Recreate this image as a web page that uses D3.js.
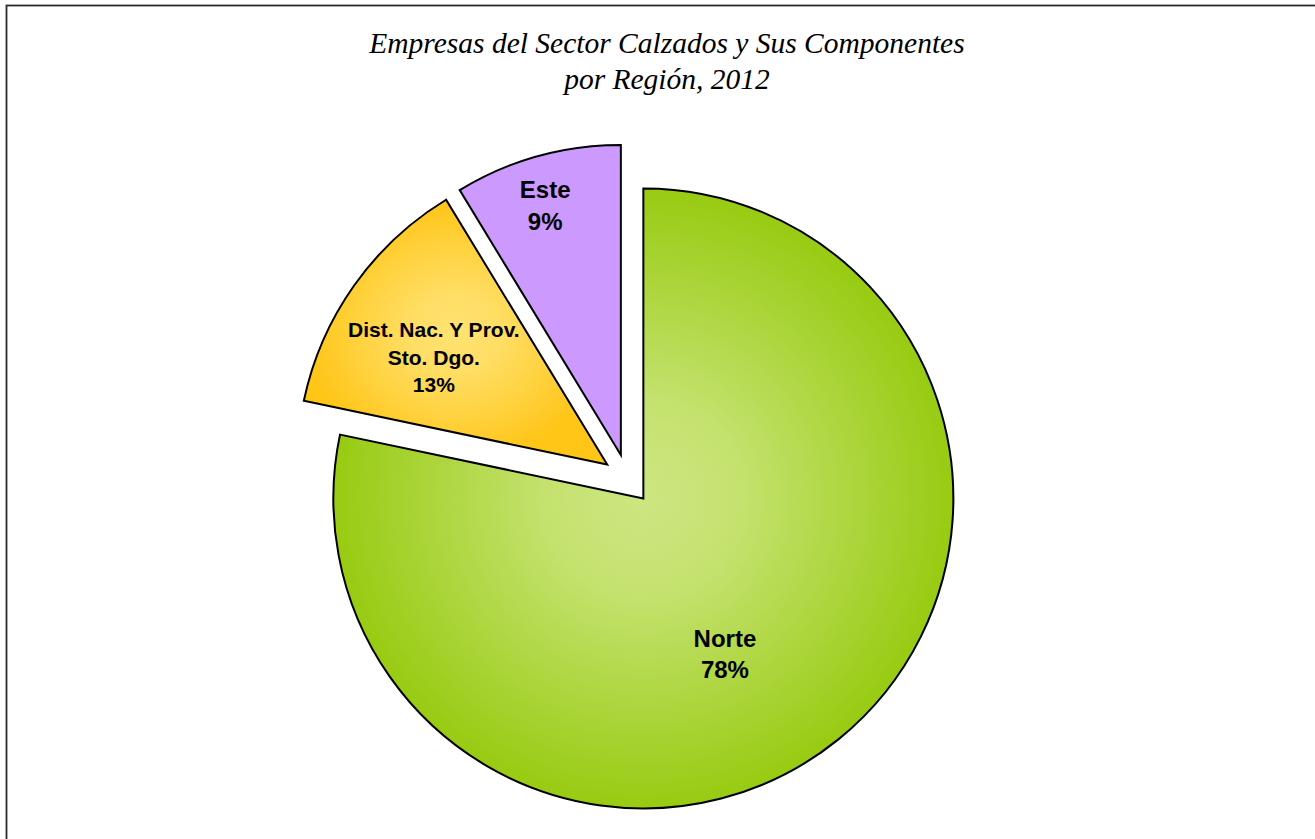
<!DOCTYPE html>
<html>
<head>
<meta charset="utf-8">
<script src="https://cdn.jsdelivr.net/npm/d3@7/dist/d3.min.js"></script>
<style>
  html, body { margin: 0; padding: 0; background: #ffffff; }
  svg { display: block; }
</style>
</head>
<body>
<svg id="chart" width="1315" height="839"></svg>
<script>
// ---- data ----
const titleLines = ["Empresas del Sector Calzados y Sus Componentes", "por Región, 2012"];
const categories = ["Norte", "Dist. Nac. Y Prov.\nSto. Dgo.", "Este"];
const values = [78.3, 13.0, 8.7];
const colors = [
  ["#cde681", "#98cb12"],
  ["#ffe272", "#ffc517"],
  ["#cc99ff", "#cc99ff"]
];

// ---- layout / style (not data) ----
const W = 1315, H = 839;
const center = { x: 627.6, y: 479 };
const radius = 310;
const explode = 25;
const labelPlacement = [
  { k: 0.567, turnDeg: 11.4, size: 24, lineH: 31 },
  { k: 0.658, turnDeg: -3.5, size: 21, lineH: 27.5 },
  { k: 0.842, turnDeg: -1.2, size: 24, lineH: 32 }
];

const svg = d3.select("#chart");

// outer frame
svg.append("rect")
  .attr("x", 6.5).attr("y", 5.5)
  .attr("width", W + 20).attr("height", H + 20)
  .attr("fill", "none").attr("stroke", "#2a2a2a").attr("stroke-width", 1.8);

// title
const title = svg.append("text")
  .attr("text-anchor", "middle")
  .attr("font-family", "'Liberation Serif', 'Times New Roman', serif")
  .attr("font-style", "italic")
  .attr("font-size", 29.5)
  .attr("fill", "#000");
title.selectAll("tspan").data(titleLines).join("tspan")
  .attr("x", 667)
  .attr("y", (d, i) => 53 + i * 36)
  .text(d => d);

// gradients
const defs = svg.append("defs");
colors.forEach((c, i) => {
  const g = defs.append("radialGradient").attr("id", "grad" + i)
    .attr("cx", "50%").attr("cy", "50%").attr("r", "50%");
  g.append("stop").attr("offset", "0%").attr("stop-color", c[0]);
  g.append("stop").attr("offset", "30%").attr("stop-color", d3.interpolateRgb(c[0], c[1])(0.15));
  g.append("stop").attr("offset", "100%").attr("stop-color", c[1]);
});

const total = d3.sum(values);
const pie = d3.pie().sort(null).value(d => d.value).startAngle(0).endAngle(2 * Math.PI);
const arcs = pie(values.map((v, i) => ({ value: v, cat: categories[i], i })));
const arc = d3.arc().innerRadius(0).outerRadius(radius);

const g = svg.append("g").attr("transform", `translate(${center.x},${center.y})`);

const slice = g.selectAll("g.slice").data(arcs).join("g")
  .attr("class", "slice")
  .attr("transform", d => {
    const a = (d.startAngle + d.endAngle) / 2;
    return `translate(${explode * Math.sin(a)},${-explode * Math.cos(a)})`;
  });

slice.append("path")
  .attr("d", arc)
  .attr("fill", d => `url(#grad${d.data.i})`)
  .attr("stroke", "#000")
  .attr("stroke-width", 2)
  .attr("stroke-linejoin", "miter");

slice.each(function(d) {
  const p = labelPlacement[d.data.i];
  const a = (d.startAngle + d.endAngle) / 2 + p.turnDeg * Math.PI / 180;
  const r = radius * p.k;
  const cx = r * Math.sin(a), cy = -r * Math.cos(a);
  const lines = d.data.cat.split("\n").concat([Math.round(d.data.value / total * 100) + "%"]);
  const n = lines.length;
  const first = cy - (n - 1) * p.lineH / 2 + 0.36 * p.size;
  const t = d3.select(this).append("text")
    .attr("text-anchor", "middle")
    .attr("font-family", "'Liberation Sans', Arial, sans-serif")
    .attr("font-weight", "bold")
    .attr("font-size", p.size)
    .attr("fill", "#000");
  t.selectAll("tspan").data(lines).join("tspan")
    .attr("x", cx)
    .attr("y", (l, j) => first + j * p.lineH)
    .text(l => l);
});
</script>
</body>
</html>
